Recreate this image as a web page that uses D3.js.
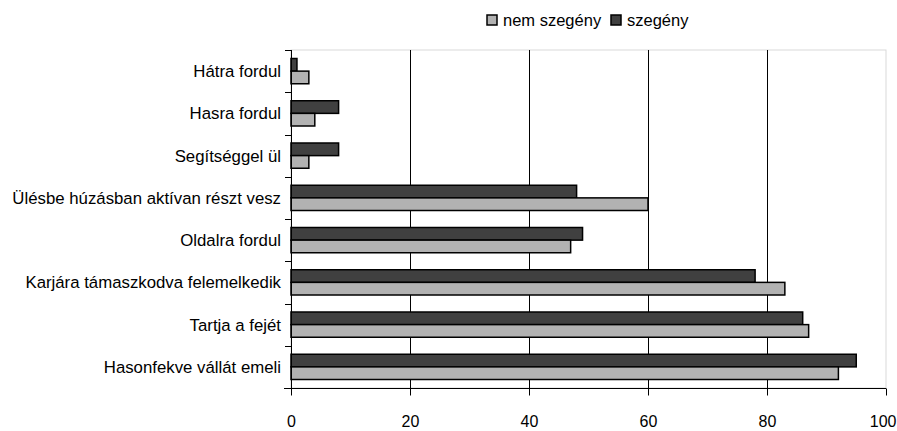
<!DOCTYPE html>
<html>
<head>
<meta charset="utf-8">
<script src="https://cdn.jsdelivr.net/npm/d3@7"></script>
<style>
  body { margin: 0; background: #fff; }
  svg text { font-family: "Liberation Sans", Arial, sans-serif; fill: #000; }
</style>
</head>
<body>
<svg width="897" height="431"></svg>
<script>
const categories = ['Hátra fordul', 'Hasra fordul', 'Segítséggel ül', 'Ülésbe húzásban aktívan részt vesz',
  'Oldalra fordul', 'Karjára támaszkodva felemelkedik', 'Tartja a fejét', 'Hasonfekve vállát emeli'];
const szegeny = [1, 8, 8, 48, 49, 78, 86, 95];
const nemSzegeny = [3, 4, 3, 60, 47, 83, 87, 92];
const xTicks = [0, 20, 40, 60, 80, 100];

const svg = d3.select('svg');
const margin = {left: 291, right: 11, top: 50, bottom: 43};
const width = +svg.attr('width'), height = +svg.attr('height');

const x = d3.scaleLinear().domain([0, 100]).range([margin.left, width - margin.right]);
const y = d3.scaleBand().domain(categories).range([margin.top, height - margin.bottom]);
const inner = d3.scaleBand().domain(['szegeny', 'nem']).range([8.5, y.bandwidth() - 8.5]);

const colors = {szegeny: '#404040', nem: '#b2b2b2'};

// plot frame
svg.append('rect')
  .attr('x', x(0)).attr('y', margin.top)
  .attr('width', x(100) - x(0)).attr('height', y.range()[1] - margin.top)
  .attr('fill', 'none').attr('stroke', '#d9d9d9');

// gridlines
svg.append('g').selectAll('line')
  .data(xTicks.filter(d => d > 0 && d < 100))
  .enter().append('line')
  .attr('x1', d => Math.round(x(d)) + 0.5).attr('x2', d => Math.round(x(d)) + 0.5)
  .attr('y1', margin.top).attr('y2', y.range()[1])
  .attr('stroke', '#000').attr('stroke-width', 1);

const rows = categories.map((c, i) => ({cat: c, szegeny: szegeny[i], nem: nemSzegeny[i]}));

const g = svg.append('g').selectAll('g')
  .data(rows)
  .enter().append('g')
  .attr('transform', d => 'translate(0,' + y(d.cat) + ')');

g.selectAll('rect')
  .data(d => ['szegeny', 'nem'].map(k => ({key: k, value: d[k]})))
  .enter().append('rect')
  .attr('x', x(0))
  .attr('y', d => inner(d.key))
  .attr('width', d => x(d.value) - x(0))
  .attr('height', inner.bandwidth())
  .attr('fill', d => colors[d.key])
  .attr('stroke', '#000')
  .attr('stroke-width', 1.5);

// x axis
const xAxis = svg.append('g')
  .attr('transform', 'translate(0,' + (y.range()[1] + 0.5) + ')')
  .call(d3.axisBottom(x).tickValues(xTicks).tickSize(7).tickPadding(20));
xAxis.select('.domain').attr('d', 'M' + (x(0) - 7) + ',0H' + x(100));
xAxis.selectAll('text').style('font-size', '16px');
// keep the last label inside the picture
xAxis.selectAll('.tick').filter(d => d === 100).select('text')
  .attr('text-anchor', 'end').attr('x', width - x(100) - 1);

// y axis
const yTickPos = categories.map(c => y(c)).concat([y.range()[1]]);
svg.append('g').selectAll('line')
  .data(yTickPos)
  .enter().append('line')
  .attr('x1', x(0) - 6).attr('x2', x(0))
  .attr('y1', d => Math.round(d) + 0.5).attr('y2', d => Math.round(d) + 0.5)
  .attr('stroke', '#000');
svg.append('line')
  .attr('x1', x(0) + 0.5).attr('x2', x(0) + 0.5)
  .attr('y1', margin.top).attr('y2', y.range()[1])
  .attr('stroke', '#000');

svg.append('g').selectAll('text')
  .data(categories)
  .enter().append('text')
  .attr('x', x(0) - 10)
  .attr('y', d => y(d) + y.bandwidth() / 2)
  .attr('dy', '0.35em')
  .attr('text-anchor', 'end')
  .style('font-size', '16.8px')
  .text(d => d);

// legend
const legend = [{key: 'nem', label: 'nem szegény', x: 487}, {key: 'szegeny', label: 'szegény', x: 611}];
const lg = svg.append('g').selectAll('g')
  .data(legend)
  .enter().append('g')
  .attr('transform', d => 'translate(' + d.x + ',15)');
lg.append('rect')
  .attr('width', 10).attr('height', 10)
  .attr('fill', d => colors[d.key])
  .attr('stroke', '#000').attr('stroke-width', 1.5);
lg.append('text')
  .attr('x', 16).attr('y', 5).attr('dy', '0.35em')
  .style('font-size', '16.5px')
  .text(d => d.label);
</script>
</body>
</html>
